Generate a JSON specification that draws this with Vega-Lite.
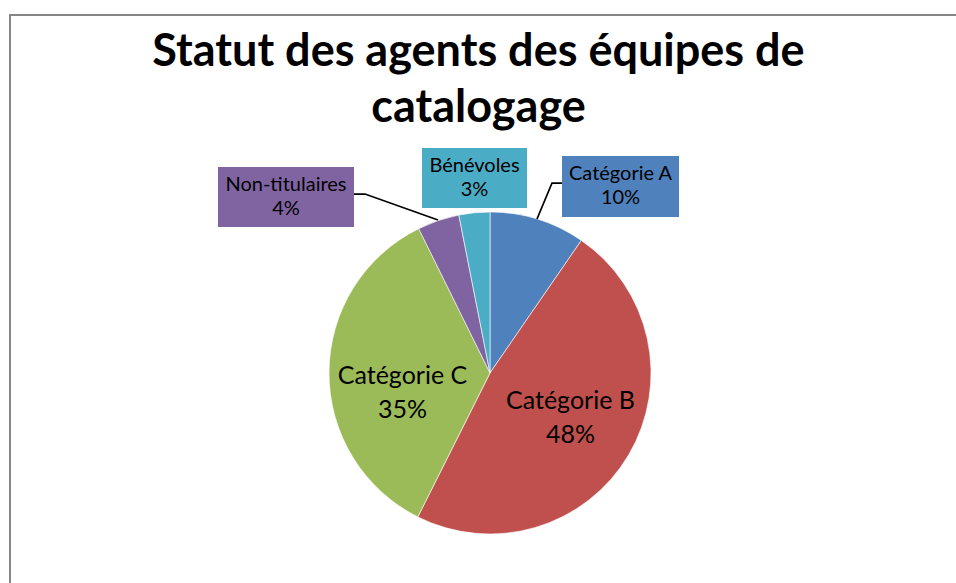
{
  "$schema": "https://vega.github.io/schema/vega-lite/v6.json",
  "width": 948,
  "height": 570,
  "autosize": {"type": "none"},
  "padding": {"left": 10, "top": 15, "right": -2, "bottom": -2},
  "background": "white",
  "config": {
    "view": {"stroke": "#868686", "strokeWidth": 2},
    "font": "Lato",
    "text": {"font": "Lato", "color": "#000000"}
  },
  "title": {
    "text": ["Statut des agents des équipes de", "catalogage"],
    "font": "Lato",
    "fontSize": 45,
    "fontWeight": "bold",
    "color": "#000000",
    "anchor": "middle",
    "frame": "group",
    "baseline": "top",
    "lineHeight": 56,
    "offset": -116,
    "dx": -5.5
  },
  "datasets": {
    "parts": [
      {"categorie": "Catégorie A", "part": 0.096, "rang": 1},
      {"categorie": "Catégorie B", "part": 0.478, "rang": 2},
      {"categorie": "Catégorie C", "part": 0.353, "rang": 3},
      {"categorie": "Non-titulaires", "part": 0.042, "rang": 4},
      {"categorie": "Bénévoles", "part": 0.031, "rang": 5}
    ],
    "etiquettes_cadres": [
      {"categorie": "Catégorie A", "x1": 44.72, "x2": 117.39, "y1": 134.78, "y2": 96.89, "cx": 81.06, "cy": 116.46},
      {"categorie": "Bénévoles", "x1": -42.24, "x2": 22.98, "y1": 139.75, "y2": 102.48, "cx": -9.63, "cy": 121.12},
      {"categorie": "Non-titulaires", "x1": -168.94, "x2": -84.47, "y1": 127.95, "y2": 90.68, "cx": -126.71, "cy": 109.32}
    ],
    "etiquettes_internes": [
      {"categorie": "Catégorie B", "cx": 50.0, "cy": -27.95},
      {"categorie": "Catégorie C", "cx": -54.35, "cy": -12.42}
    ],
    "reperes": [
      {"categorie": "Catégorie A", "ordre": 1, "x": 44.72, "y": 118.01},
      {"categorie": "Catégorie A", "ordre": 2, "x": 38.51, "y": 118.01},
      {"categorie": "Catégorie A", "ordre": 3, "x": 29.19, "y": 95.65},
      {"categorie": "Non-titulaires", "ordre": 1, "x": -84.47, "y": 111.18},
      {"categorie": "Non-titulaires", "ordre": 2, "x": -77.64, "y": 111.18},
      {"categorie": "Non-titulaires", "ordre": 3, "x": -32.30, "y": 95.03}
    ]
  },
  "layer": [
    {
      "data": {"name": "parts"},
      "mark": {"type": "arc", "outerRadius": 161, "stroke": "#ffffff", "strokeWidth": 0.6},
      "encoding": {
        "theta": {"field": "part", "type": "quantitative", "stack": true},
        "order": {"field": "rang", "type": "quantitative"},
        "color": {
          "field": "categorie",
          "type": "nominal",
          "scale": {
            "domain": ["Catégorie A", "Catégorie B", "Catégorie C", "Non-titulaires", "Bénévoles"],
            "range": ["#4F81BD", "#C0504D", "#9BBB59", "#8064A2", "#4BACC6"]
          },
          "legend": null
        },
        "x": {"datum": 0, "type": "quantitative", "scale": {"domain": [-298.137, 290.683], "nice": false, "zero": false}, "axis": null},
        "y": {"datum": 0, "type": "quantitative", "scale": {"domain": [-131.677, 222.36], "nice": false, "zero": false}, "axis": null}
      }
    },
    {
      "data": {"name": "reperes"},
      "mark": {"type": "line", "color": "#000000", "strokeWidth": 1.75},
      "encoding": {
        "x": {"field": "x", "type": "quantitative", "axis": null},
        "y": {"field": "y", "type": "quantitative", "axis": null},
        "detail": {"field": "categorie"},
        "order": {"field": "ordre", "type": "quantitative"}
      }
    },
    {
      "data": {"name": "etiquettes_cadres"},
      "mark": {"type": "rect"},
      "encoding": {
        "x": {"field": "x1", "type": "quantitative", "axis": null},
        "x2": {"field": "x2"},
        "y": {"field": "y1", "type": "quantitative", "axis": null},
        "y2": {"field": "y2"},
        "color": {"field": "categorie", "type": "nominal", "legend": null}
      }
    },
    {
      "data": {"name": "etiquettes_cadres"},
      "mark": {"type": "text", "fontSize": 20, "align": "center", "baseline": "alphabetic", "dy": -5.5},
      "encoding": {
        "x": {"field": "cx", "type": "quantitative", "axis": null},
        "y": {"field": "cy", "type": "quantitative", "axis": null},
        "text": {"field": "categorie"}
      }
    },
    {
      "data": {"name": "etiquettes_cadres"},
      "transform": [
        {"lookup": "categorie", "from": {"data": {"name": "parts"}, "key": "categorie", "fields": ["part"]}}
      ],
      "mark": {"type": "text", "fontSize": 20, "align": "center", "baseline": "alphabetic", "dy": 18.5},
      "encoding": {
        "x": {"field": "cx", "type": "quantitative", "axis": null},
        "y": {"field": "cy", "type": "quantitative", "axis": null},
        "text": {"field": "part", "type": "quantitative", "format": ".0%"}
      }
    },
    {
      "data": {"name": "etiquettes_internes"},
      "mark": {"type": "text", "fontSize": 25, "align": "center", "baseline": "alphabetic", "dy": -8.5},
      "encoding": {
        "x": {"field": "cx", "type": "quantitative", "axis": null},
        "y": {"field": "cy", "type": "quantitative", "axis": null},
        "text": {"field": "categorie"}
      }
    },
    {
      "data": {"name": "etiquettes_internes"},
      "transform": [
        {"lookup": "categorie", "from": {"data": {"name": "parts"}, "key": "categorie", "fields": ["part"]}}
      ],
      "mark": {"type": "text", "fontSize": 25, "align": "center", "baseline": "alphabetic", "dy": 25},
      "encoding": {
        "x": {"field": "cx", "type": "quantitative", "axis": null},
        "y": {"field": "cy", "type": "quantitative", "axis": null},
        "text": {"field": "part", "type": "quantitative", "format": ".0%"}
      }
    }
  ]
}
